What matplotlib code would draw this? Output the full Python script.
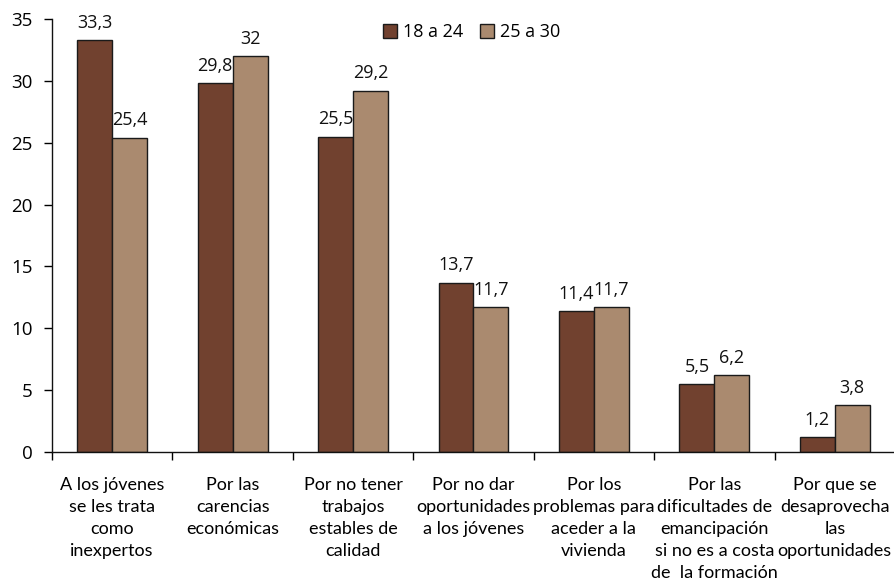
import matplotlib
matplotlib.use("Agg")
import matplotlib.pyplot as plt
import numpy as np

categories = [
    "A los jóvenes\nse les trata\ncomo\ninexpertos",
    "Por las\ncarencias\neconómicas",
    "Por no tener\ntrabajos\nestables de\ncalidad",
    "Por no dar\noportunidades\na los jóvenes",
    "Por los\nproblemas para\naceder a la\nvivienda",
    "Por las\ndificultades de\nemancipación\nsi no es a costa\nde  la formación",
    "Por que se\ndesaprovecha\nlas\noportunidades",
]
series_names = ["18 a 24", "25 a 30"]
vals_18_24 = [33.3, 29.8, 25.5, 13.7, 11.4, 5.5, 1.2]
vals_25_30 = [25.4, 32, 29.2, 11.7, 11.7, 6.2, 3.8]
yticks = [0, 5, 10, 15, 20, 25, 30, 35]

plt.rcParams['font.family'] = ['Open Sans', 'DejaVu Sans']
narrow = ['Lato', 'Open Sans', 'DejaVu Sans']

W, H = 895, 580
fig = plt.figure(figsize=(W / 100, H / 100), dpi=100)
left, right = 52, 895
bottom, top = 452, 19
ax = fig.add_axes([left / W, (H - bottom) / H, (right - left) / W, (bottom - top) / H])

x = np.arange(len(categories))
bw = 0.29
c1, c2 = "#71412f", "#aa8a6f"
b1 = ax.bar(x - bw / 2, vals_18_24, bw, color=c1, edgecolor="#1a1a1a", linewidth=1.0, label=series_names[0])
b2 = ax.bar(x + bw / 2, vals_25_30, bw, color=c2, edgecolor="#1a1a1a", linewidth=1.0, label=series_names[1])

def fmt(v):
    return ("%g" % v).replace(".", ",")

for bars, vals in ((b1, vals_18_24), (b2, vals_25_30)):
    for r, v in zip(bars, vals):
        ax.annotate(fmt(v), (r.get_x() + r.get_width() / 2, v), xytext=(0, 6),
                    textcoords="offset points", ha="center", va="bottom", fontsize=13, color="#111111")

ax.set_xlim(-0.5, len(categories) - 0.5)
ax.set_ylim(0, 35)
ax.set_yticks(yticks)
ax.tick_params(axis="y", labelsize=13.5, length=6, width=1, direction="out", pad=8)
ax.set_xticks(x)
ax.set_xticklabels(categories, fontsize=13, linespacing=1.47, va="top", family=narrow)
ax.tick_params(axis="x", length=0, pad=18)
ax.set_xticks(np.arange(len(categories) + 1) - 0.5, minor=True)
ax.tick_params(axis="x", which="minor", length=6, width=1, direction="out")

for s in ("top", "right"):
    ax.spines[s].set_visible(False)
for s in ("left", "bottom"):
    ax.spines[s].set_linewidth(1.0)
    ax.spines[s].set_color("#111111")

leg = ax.legend(loc="upper left", bbox_to_anchor=((376 - left) / (right - left), 1.0 + 3 / (bottom - top)),
                ncol=2, frameon=False, fontsize=13, handlelength=0.75, handleheight=0.75,
                handletextpad=0.35, columnspacing=0.95, borderaxespad=0)

fig.savefig("out.png", dpi=100)
